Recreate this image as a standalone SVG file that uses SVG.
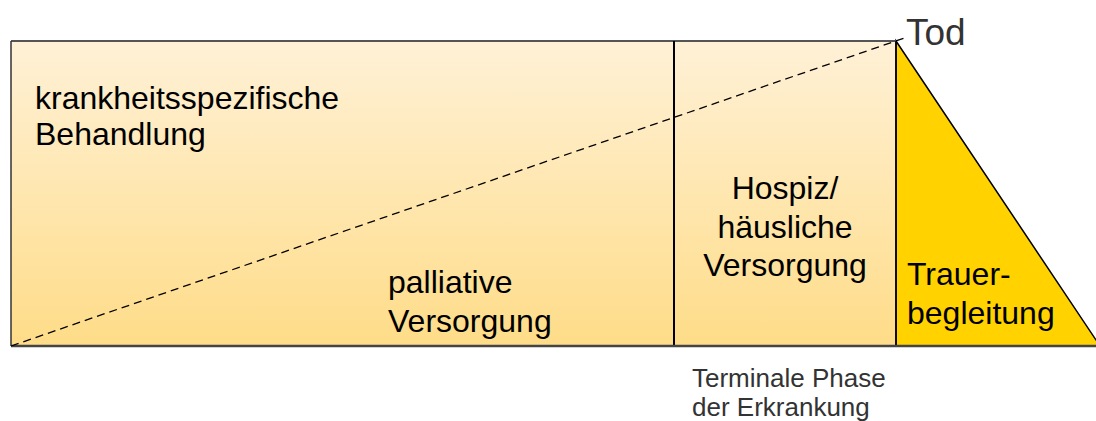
<svg xmlns="http://www.w3.org/2000/svg" width="1096" height="421" viewBox="0 0 1096 421">
<style>
.t{font-family:"Liberation Sans",Arial,sans-serif;font-size:32px;fill:#000}
.s{font-family:"Liberation Sans",Arial,sans-serif;font-size:26px;fill:#333}
.tod{font-family:"Liberation Sans",Arial,sans-serif;font-size:37px;fill:#333}
</style>
<defs>
<linearGradient id="g" x1="0" y1="0" x2="0" y2="1">
<stop offset="0" stop-color="#FFF1D7"/>
<stop offset="1" stop-color="#FEDC88"/>
</linearGradient>
</defs>
<rect x="0" y="0" width="1096" height="421" fill="#fff"/>
<g id="phase-main">
<rect x="11" y="41" width="663" height="305" fill="url(#g)"/>
<text class="t" x="35" y="109">krankheitsspezifische</text>
<text class="t" x="35" y="145">Behandlung</text>
<text class="t" x="388" y="293">palliative</text>
<text class="t" x="388" y="332">Versorgung</text>
</g>
<g id="phase-terminal">
<rect x="674" y="41" width="222" height="305" fill="url(#g)"/>
<text class="t" x="785" y="199" text-anchor="middle">Hospiz/</text>
<text class="t" x="785" y="238" text-anchor="middle">häusliche</text>
<text class="t" x="785" y="276" text-anchor="middle">Versorgung</text>
<text class="s" x="692" y="387">Terminale Phase</text>
<text class="s" x="692" y="416">der Erkrankung</text>
</g>
<g id="trauer">
<polygon points="896,41 1100,346 896,346" fill="#FFD200" stroke="#000" stroke-width="1.5"/>
<text class="t" x="907" y="285">Trauer-</text>
<text class="t" x="907" y="324">begleitung</text>
</g>
<g id="tod">
<text class="tod" x="906" y="45">Tod</text>
</g>
<g id="connectors" fill="none">
<line x1="11" y1="41" x2="896" y2="41" stroke="#555" stroke-width="2"/>
<line x1="11" y1="41" x2="11" y2="346" stroke="#333" stroke-width="1.5"/>
<line x1="674" y1="41" x2="674" y2="346" stroke="#000" stroke-width="2"/>
<line x1="896" y1="41" x2="896" y2="346" stroke="#000" stroke-width="1.5"/>
<line x1="11" y1="346" x2="1096" y2="346" stroke="#444" stroke-width="2.5"/>
<line x1="11" y1="346" x2="906" y2="37.5" stroke="#000" stroke-width="1.3" stroke-dasharray="8,5"/>
</g>
</svg>
